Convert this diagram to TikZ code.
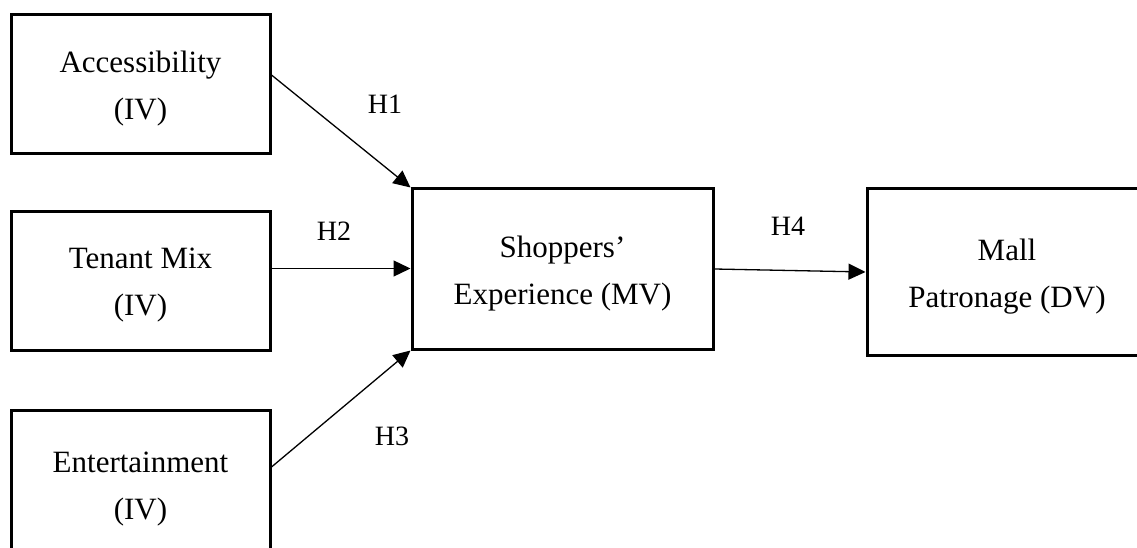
\documentclass[tikz,border=0pt]{standalone}
\usepackage{fontspec}
\setmainfont{Liberation Serif}
\usetikzlibrary{arrows.meta}
\tikzset{
  varbox/.style={draw, line width=3pt, rectangle, inner sep=0pt},
  vartext/.style={align=center, inner sep=0pt, font=\fontsize{31}{47}\selectfont},
  arr/.style={line width=1.3pt, -{Triangle[length=17pt,width=16pt]}},
  hyp/.style={font=\fontsize{28}{32}\selectfont, inner sep=0pt},
}
\begin{document}
\begin{tikzpicture}[x=1pt, y=-1pt]
  \useasboundingbox (0,0) rectangle (1137,548);
  \clip (0,0) rectangle (1137,548);
  % independent variables
  \node[varbox, minimum width=259pt, minimum height=139pt] (acc) at (140.5,84.5) {};
  \node[varbox, minimum width=259pt, minimum height=139pt] (ten) at (140.5,280.5) {};
  \node[varbox, minimum width=259pt, minimum height=152pt] (ent) at (140.5,486) {};
  % mediator and dependent variable
  \node[varbox, minimum width=301pt, minimum height=160pt] (sme) at (562.5,269) {};
  \node[varbox, minimum width=280pt, minimum height=166pt] (mall) at (1007,272) {};
  % box captions
  \node[vartext] (acct) at ([yshift=-4pt]acc.center) {Accessibility\\(IV)};
  \node[vartext] (tent) at ([yshift=-5pt]ten.center) {Tenant Mix\\(IV)};
  \node[vartext] (entt) at ([yshift=-3pt]ent.center) {Entertainment\\(IV)};
  \node[vartext] (smet) at ([yshift=-5pt]sme.center) {Shoppers’\\Experience (MV)};
  \node[vartext] (mallt) at ([yshift=-5pt]mall.center) {Mall\\Patronage (DV)};
  % hypothesised paths
  \draw[arr] ([yshift=9.5pt]acc.east) -- (sme.north west);
  \draw[arr] ([yshift=12pt]ten.east) -- ([yshift=12pt]ten.east -| sme.west);
  \draw[arr] ([yshift=19pt]ent.east) -- (sme.south west);
  \draw[arr] (sme.east) -- (mall.west);
  % path labels
  \node[hyp] (h1) at (385,104) {H1};
  \node[hyp] (h2) at (334,231) {H2};
  \node[hyp] (h3) at (392,436) {H3};
  \node[hyp] (h4) at (788,226) {H4};
\end{tikzpicture}
\end{document}
